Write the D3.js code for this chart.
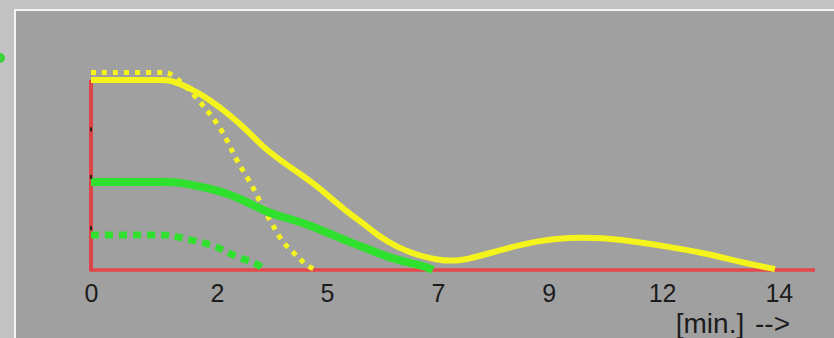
<!DOCTYPE html>
<html>
<head>
<meta charset="utf-8">
<script src="https://cdn.jsdelivr.net/npm/d3@7"></script>
<style>
  html, body { margin: 0; padding: 0; background: #c2c2c2; }
  svg { display: block; }
</style>
</head>
<body>
<svg id="chart"></svg>
<script>
// data (minutes, percent of start level)
const yellowSolidT = [0, 0.8, 1.5, 1.62, 2.03, 2.44, 2.84, 3.19, 3.52, 3.87, 4.22, 4.54, 4.89, 5.24, 5.57, 5.91, 6.26, 6.67, 7.08, 7.55, 8.37, 9.19, 10.0, 10.83, 11.85, 12.67, 13.28, 14.0];
const yellowSolidV = [100, 100, 100, 100, 95.8, 89.5, 81.6, 73.7, 64.7, 57.9, 51.6, 45.8, 38.4, 30.5, 24.7, 17.4, 12.1, 7.9, 5.3, 4.2, 10.5, 15.8, 17.4, 16.3, 12.1, 8.4, 4.2, 0.5];

const yellowDotT = [0, 0.8, 1.5, 1.6, 1.9, 2.29, 2.5, 2.7, 2.85, 3.0, 3.21, 3.4, 3.54, 3.72, 3.89, 4.11, 4.28, 4.44, 4.63];
const yellowDotV = [104, 104, 104, 104, 98, 86.8, 80, 72.6, 64.7, 56.8, 48.4, 39.5, 31, 24.2, 15.3, 10, 5.8, 1.6, 0];

const greenSolidT = [0, 0.9, 1.6, 1.76, 2.29, 2.78, 3.19, 3.6, 3.93, 4.48, 5.03, 5.57, 6.06, 6.53, 6.88, 7.0];
const greenSolidV = [46.3, 46.3, 46.3, 46.3, 43.7, 40.5, 35.8, 30.5, 27.9, 23.7, 17.4, 12.1, 6.8, 3.7, 1.6, 0];

const greenDotT = [0, 0.8, 1.45, 1.6, 1.88, 2.5, 2.7, 2.99, 3.4, 3.56];
const greenDotV = [18.4, 18.4, 18.4, 18.4, 16.8, 13.2, 10.5, 6.8, 3.4, 0];

const tickPos = [0, 2.58, 4.83, 7.1, 9.37, 11.69, 14.08];
const tickLabels = ['0', '2', '5', '7', '9', '12', '14'];
const yMarks = [22, 49, 74];

const WIDTH = 834;
const HEIGHT = 338;

const svg = d3.select('#chart')
    .attr('width', WIDTH)
    .attr('height', HEIGHT);

// frame: light outer, white edge, grey panel
svg.append('rect').attr('width', WIDTH).attr('height', HEIGHT).attr('fill', '#c2c2c2');
svg.append('rect').attr('x', 14).attr('y', 9).attr('width', WIDTH).attr('height', HEIGHT).attr('fill', '#f4f4f4');
svg.append('rect').attr('x', 16).attr('y', 11).attr('width', WIDTH).attr('height', HEIGHT).attr('fill', '#a0a0a0');

// half hidden green dot at the left edge
svg.append('circle').attr('cx', 0).attr('cy', 58).attr('r', 5).attr('fill', '#3cd23c');

const x = d3.scaleLinear()
    .domain([0, 14.82])
    .range([91, 815]);

const y = d3.scaleLinear()
    .domain([0, 100])
    .range([270, 80]);

// axes (red)
svg.append('line')
    .attr('x1', x(0)).attr('x2', x(14.82))
    .attr('y1', y(0)).attr('y2', y(0))
    .attr('stroke', '#e6474b').attr('stroke-width', 3.5);
svg.append('line')
    .attr('x1', x(0)).attr('x2', x(0))
    .attr('y1', y(0) + 1.5).attr('y2', y(100))
    .attr('stroke', '#dd4448').attr('stroke-width', 4);

// x tick labels
const xAxis = d3.axisBottom(x)
    .tickValues(tickPos)
    .tickFormat((d, i) => tickLabels[i])
    .tickSize(0)
    .tickPadding(14);
const gx = svg.append('g')
    .attr('transform', `translate(0, ${y(0)})`)
    .call(xAxis);
gx.select('.domain').remove();
gx.selectAll('text')
    .attr('fill', '#1c1c1c')
    .style('font-family', '"Liberation Sans", Arial, sans-serif')
    .style('font-size', '25px');

svg.append('text')
    .attr('x', 790).attr('y', 333)
    .attr('text-anchor', 'end')
    .attr('fill', '#1c1c1c')
    .style('font-family', '"Liberation Sans", Arial, sans-serif')
    .style('font-size', '28px')
    .style('word-spacing', '3px')
    .text('[min.] -->');

const line = (ts, vs) => d3.line()
    .x(i => x(ts[i]))
    .y(i => y(vs[i]))
    .curve(d3.curveBasis)(d3.range(ts.length));

// curves
svg.append('path')
    .attr('d', line(greenDotT, greenDotV))
    .attr('fill', 'none').attr('stroke', '#2fe02f')
    .attr('stroke-width', 7).attr('stroke-dasharray', '8,6');
svg.append('path')
    .attr('d', line(yellowDotT, yellowDotV))
    .attr('fill', 'none').attr('stroke', '#f4f41c')
    .attr('stroke-width', 5).attr('stroke-dasharray', '5,6');
svg.append('path')
    .attr('d', line(greenSolidT, greenSolidV))
    .attr('fill', 'none').attr('stroke', '#2fe02f')
    .attr('stroke-width', 8);
svg.append('path')
    .attr('d', line(yellowSolidT, yellowSolidV))
    .attr('fill', 'none').attr('stroke', '#f4f41c')
    .attr('stroke-width', 6);

// little dark marks on the y axis
svg.selectAll('rect.ymark')
    .data(yMarks)
    .join('rect')
    .attr('class', 'ymark')
    .attr('x', x(0) - 1)
    .attr('y', d => y(d) - 2)
    .attr('width', 2)
    .attr('height', 4)
    .attr('fill', '#222');
</script>
</body>
</html>
